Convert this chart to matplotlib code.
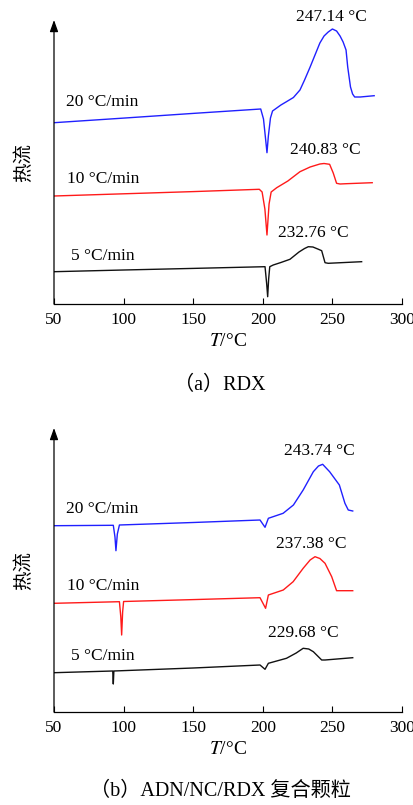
import numpy as np
import matplotlib
matplotlib.use('Agg')
import matplotlib.pyplot as plt

plt.rcParams['font.family'] = ['Liberation Serif', 'Noto Sans CJK SC']
plt.rcParams['mathtext.fontset'] = 'stix'

# ---- (a) RDX ----
rdx_20_T = [50, 100, 150, 198.5, 200.5, 202, 203, 204, 205.5, 207, 210, 213, 217, 222, 226.7, 230, 234, 237.5,
            241, 244, 247, 250, 253, 255.5, 257.7, 259.8, 261, 263, 264.5, 266, 270, 280]
rdx_20_hf = [181.3, 185.9, 190.6, 195, 185, 165, 151.3, 168, 186, 193, 196, 199, 202.3, 206.5, 214, 224, 237, 249,
             261, 268, 272, 275, 273, 268, 262, 254, 237, 217, 210, 207, 207, 208.3]

rdx_10_T = [50, 100, 150, 197.5, 199.5, 201.5, 203, 204.5, 206, 210, 218, 226.7, 234, 241, 244, 248,
            250.6, 253, 255.5, 260, 278.6]
rdx_10_hf = [108, 110.2, 112.4, 114.7, 112, 95, 69, 100, 112, 116.3, 123, 132.3, 137, 140, 140.5, 139.7,
             131, 120.7, 120, 120.3, 121.3]

rdx_5_T = [50, 100, 150, 201.6, 202.8, 203.5, 204.2, 205, 207.5, 213, 219.5, 226, 230, 232.7, 236, 240,
           242.3, 244.7, 247, 271]
rdx_5_hf = [32.3, 34, 35.6, 37.3, 20, 7.3, 25, 37.3, 39, 41.5, 44.7, 52, 55.5, 57.3, 57, 54.7,
            53.3, 41.3, 40.7, 42.3]

# ---- (b) ADN/NC/RDX ----
adn_20_T = [50, 92.6, 93.8, 94.5, 95.5, 97, 150, 198, 201.6, 204, 214.6, 222, 229, 236.3, 240, 243,
            248, 255, 259, 261.4, 264.6]
adn_20_hf = [186.3, 186.7, 175, 161.3, 178, 187, 189.5, 192, 184.7, 193.7, 198.7, 207, 222, 240.3, 246, 247.7,
             240.3, 227, 208.7, 202, 201]

adn_10_T = [50, 97, 98, 98.6, 99.3, 100, 150, 198, 202, 204, 214.7, 221.8, 229, 234, 237.5, 241,
            244.7, 249.5, 253, 264.6]
adn_10_hf = [108.7, 110.3, 95, 77, 100, 110.5, 112.4, 114.3, 103.7, 117, 122, 130.3, 143.7, 152, 155.3, 153.5,
             148.7, 135.3, 121.3, 121.3]

adn_5_T = [50, 92.2, 92.6, 93, 150, 198, 201.6, 204, 217, 224, 229, 233, 236.3, 242.3, 244.7, 264.6]
adn_5_hf = [39.3, 41, 28, 41, 44, 47, 42.7, 48.7, 53.7, 59, 63.7, 63, 60.3, 52, 52, 54.3]

colors = ['#2020ff', '#ff1a1a', '#111111']
rate_labels = ['20 °C/min', '10 °C/min', '5 °C/min']
rdx_peaks = ['247.14 °C', '240.83 °C', '232.76 °C']
adn_peaks = ['243.74 °C', '237.38 °C', '229.68 °C']
xticks = [50, 100, 150, 200, 250, 300]

panels = [
    dict(curves=[(rdx_20_T, rdx_20_hf), (rdx_10_T, rdx_10_hf), (rdx_5_T, rdx_5_hf)],
         peaks=rdx_peaks,
         peak_pos=[(249.5, 287), (244.7, 154), (236, 71.3)],
         rate_y=[202.3, 125, 48],
         caption='（a）RDX', bottom_px=304, cap_px=385.7),
    dict(curves=[(adn_20_T, adn_20_hf), (adn_10_T, adn_10_hf), (adn_5_T, adn_5_hf)],
         peaks=adn_peaks,
         peak_pos=[(241, 261.3), (235.1, 168), (229.1, 78.7)],
         rate_y=[203, 126.3, 56],
         caption='（b）ADN/NC/RDX 复合颗粒', bottom_px=712, cap_px=791.7),
]

W, H = 414, 805
fig = plt.figure(figsize=(W / 100, H / 100), dpi=100)

for p in panels:
    ax = fig.add_axes([54 / W, (H - p['bottom_px']) / H, 348 / W, 284 / H])
    for (t, hf), c in zip(p['curves'], colors):
        ax.plot(t, hf, color=c, lw=1.0)
    for txt, (x, y) in zip(p['peaks'], p['peak_pos']):
        ax.text(x, y, txt, ha='center', va='center', fontsize=12.5, clip_on=False)
    for txt, y, x in zip(rate_labels, p['rate_y'], [58.6, 59.1, 62.2]):
        ax.text(x, y, txt, ha='left', va='center', fontsize=12.5)

    ax.set_xlim(50, 300)
    ax.set_ylim(0, 284)
    ax.set_xticks(xticks)
    ax.tick_params(axis='x', direction='in', length=4, width=0.8, pad=6, labelsize=12.5)
    ax.set_yticks([])
    for s in ['top', 'right', 'left']:
        ax.spines[s].set_visible(False)
    ax.spines['bottom'].set_linewidth(0.9)
    ax.annotate('', xy=(0, 1.0), xytext=(0, 0), xycoords='axes fraction',
                arrowprops=dict(arrowstyle='-|>,head_length=0.7,head_width=0.25',
                                color='black', lw=0.9, shrinkA=0, shrinkB=0))
    ax.set_xlabel('$T$/°C', fontsize=14, labelpad=3)
    ax.set_ylabel('热流', fontsize=14, family=['Noto Sans CJK SC'], labelpad=14)
    fig.text(220 / W, 1 - p['cap_px'] / H, p['caption'], ha='center', va='center', fontsize=14.5)

fig.savefig('out.png', dpi=100)
